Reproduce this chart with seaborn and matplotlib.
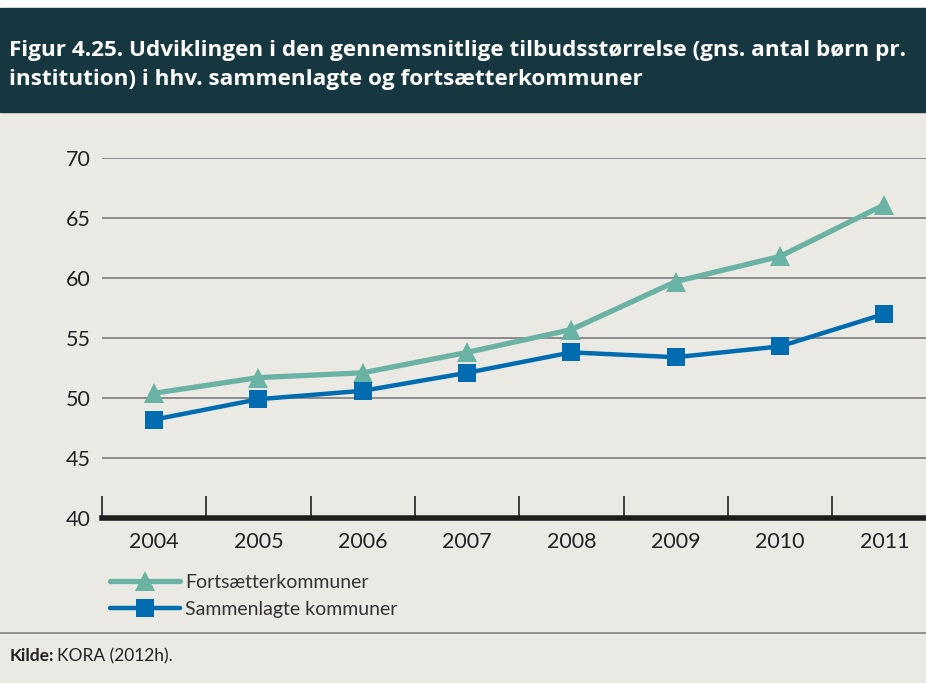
import matplotlib
matplotlib.use("Agg")
import matplotlib.pyplot as plt
import seaborn as sns
import pandas as pd
from matplotlib.patches import Rectangle
from matplotlib.lines import Line2D

# data
years = [2004, 2005, 2006, 2007, 2008, 2009, 2010, 2011]
fortsaetter = [50.4, 51.7, 52.1, 53.8, 55.7, 59.7, 61.8, 66.1]
sammenlagte = [48.2, 49.9, 50.6, 52.1, 53.8, 53.4, 54.3, 57.0]
series_names = ["Fortsætterkommuner", "Sammenlagte kommuner"]
title = ("Figur 4.25. Udviklingen i den gennemsnitlige tilbudsstørrelse (gns. antal børn pr.\n"
         "institution) i hhv. sammenlagte og fortsætterkommuner")
source = "KORA (2012h)."

bg = "#EAE9E3"
header = "#16373F"
teal = "#6AB3A4"
blue = "#006BAE"

sns.set_style("white")
plt.rcParams["font.family"] = ["Lato", "DejaVu Sans"]

df = pd.DataFrame({
    "year": years * 2,
    "value": fortsaetter + sammenlagte,
    "serie": [series_names[0]] * len(years) + [series_names[1]] * len(years),
})

fig = plt.figure(figsize=(9.26, 6.83), dpi=100)
fig.patch.set_facecolor(bg)
H = 683.0
# white strip on top and dark header
fig.patches.append(Rectangle((0, (H - 8) / H), 1, 8 / H, transform=fig.transFigure,
                             color="white", zorder=0))
fig.patches.append(Rectangle((0, (H - 112) / H), 1, 104 / H, transform=fig.transFigure,
                             color=header, zorder=0))
fig.text(9 / 926, (H - 65) / H, title, color="white", fontsize=16.2, fontweight="bold",
         family=["Open Sans", "DejaVu Sans"], va="center", ha="left", linespacing=1.55)

ax = fig.add_axes([102 / 926, 165 / H, 1 - 102 / 926, 360 / H])
ax.set_facecolor(bg)

sns.lineplot(data=df, x="year", y="value", hue="serie", style="serie",
             palette={series_names[0]: teal, series_names[1]: blue},
             markers={series_names[0]: "^", series_names[1]: "s"},
             dashes=False, ax=ax, legend=False, clip_on=False)
for ln, lw, ms in zip(ax.lines, [3.8, 3.2], [14, 13]):
    ln.set_linewidth(lw)
    ln.set_markersize(ms)
    ln.set_markeredgewidth(0)
    ln.set_zorder(5)

ax.set_xlim(2003.5, 2011.4)
ax.set_ylim(40, 70)
ax.set_yticks([40, 45, 50, 55, 60, 65, 70])
ax.set_xticks(years)
ax.set_xticks([y + 0.5 for y in range(2003, 2011)], minor=True)
ax.yaxis.grid(True, color="#8C8C8C", linewidth=1.4)
ax.set_axisbelow(True)
ax.tick_params(axis="y", length=0, labelsize=15.5, labelcolor="#222222", pad=8)
ax.tick_params(axis="x", which="major", length=0, labelsize=15.5, labelcolor="#222222", pad=10)
ax.tick_params(axis="x", which="minor", bottom=True, direction="in", length=16, width=1.2,
               color="#222222")
for s in ["top", "right", "left"]:
    ax.spines[s].set_visible(False)
ax.spines["bottom"].set_linewidth(4)
ax.spines["bottom"].set_color("#1E1E1E")
ax.set_xlabel("")
ax.set_ylabel("")

handles = [Line2D([], [], color=teal, lw=3.8, marker="^", markersize=14, markeredgewidth=0),
           Line2D([], [], color=blue, lw=3.2, marker="s", markersize=13, markeredgewidth=0)]
fig.legend(handles, series_names, loc="upper left", bbox_to_anchor=(92 / 926, (H - 556) / H),
           frameon=False, fontsize=14, handlelength=3.6, handletextpad=0.3,
           labelspacing=0.55, labelcolor="#333333")

fig.add_artist(Line2D([0, 1], [(H - 633) / H] * 2, transform=fig.transFigure,
                      color="#8A8A8A", lw=1.3))
fig.text(10 / 926, (H - 656) / H, "Kilde:", fontsize=12.5, fontweight="bold",
         va="center", ha="left", color="#222222")
fig.text(57 / 926, (H - 656) / H, source, fontsize=12.5, va="center", ha="left", color="#222222")

fig.savefig("out.png", dpi=100, facecolor=fig.get_facecolor())
